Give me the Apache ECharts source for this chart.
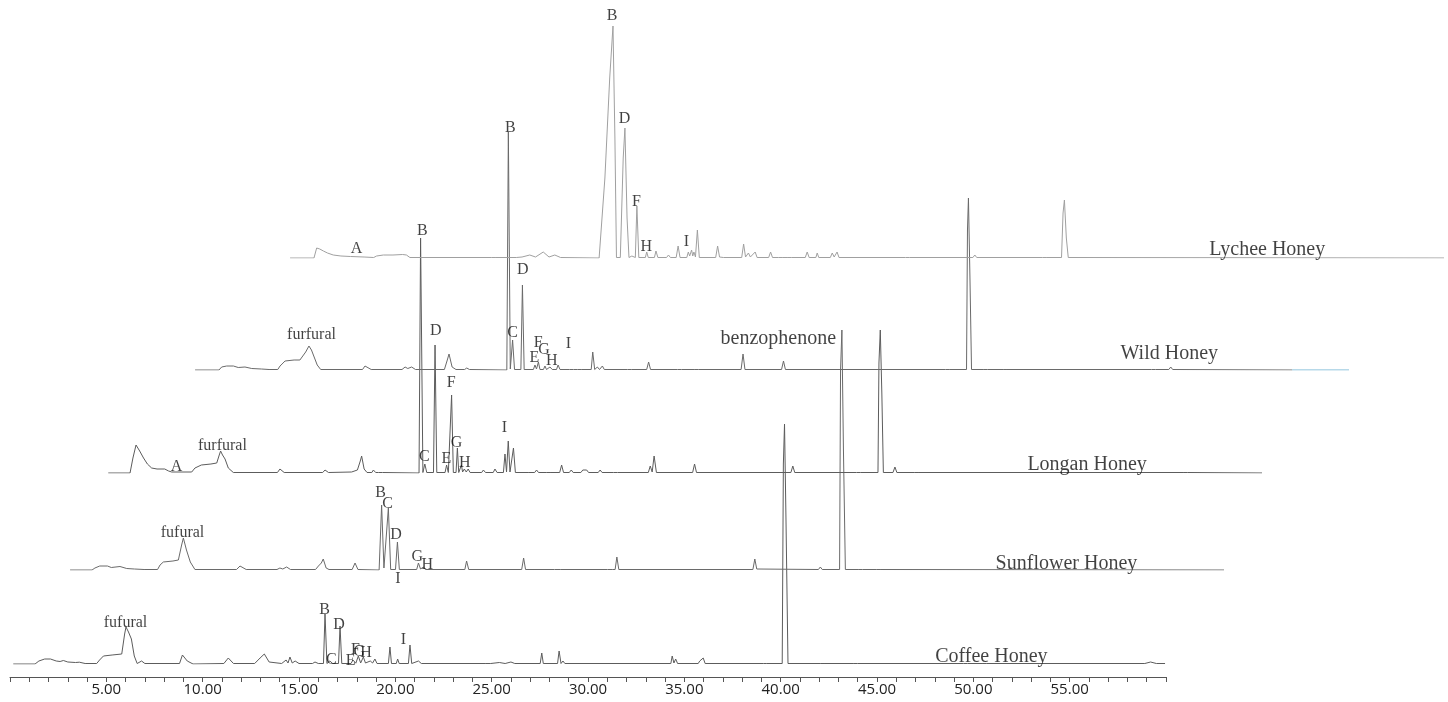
<!DOCTYPE html>
<html>
<head>
<meta charset="utf-8">
<script src="https://cdn.jsdelivr.net/npm/echarts@6/dist/echarts.min.js"></script>
<style>html,body{margin:0;padding:0;background:#fff}#c{width:1448px;height:702px}</style>
</head>
<body>
<div id="c"></div>
<script>
// ---- Data: retention time (min, each trace's own time axis) and signal height ----
const traceNames = ['Coffee Honey', 'Sunflower Honey', 'Longan Honey', 'Wild Honey', 'Lychee Honey'];
const tickLabelStep = 5;
const coffee = [[0.17,0],[1.3,0],[1.5,3],[1.8,5],[2.1,5],[2.4,3],[2.6,2.5],[2.77,3.5],[3.0,2],[3.4,1.5],[3.6,1.8],[3.9,0.5],[4.5,0.5],[4.65,4],[4.85,8],[5.3,9],[5.8,10],[5.95,30],[6.02,37],[6.15,32],[6.3,25],[6.45,8],[6.6,0.5],[6.83,3],[7.0,0.5],[8.8,0.5],[8.95,9],[9.2,3],[9.5,0],[11.1,0.5],[11.33,6],[11.6,0.5],[12.7,0.5],[12.98,6],[13.2,10],[13.29,12],[13.45,2],[14.1,0.5],[14.33,4],[14.43,1],[14.53,7],[14.65,1],[14.8,3],[15.0,0.5],[15.7,0.5],[15.83,2],[16.0,0.5],[16.27,0.5],[16.35,50],[16.45,0.5],[16.6,3],[16.75,0.5],[17.05,0.5],[17.13,38],[17.22,0.5],[17.7,0.5],[17.8,4],[17.95,0.8],[18.08,8],[18.2,1],[18.34,7],[18.45,1],[18.7,3],[18.82,1],[18.94,5],[19.05,0.5],[19.64,0.5],[19.72,17],[19.8,0.5],[20.05,0.5],[20.12,5],[20.2,0.5],[20.68,0.5],[20.76,19],[20.85,0.5],[21.2,3],[21.35,0.5],[24.7,0.5],[24.8,2],[24.95,0.5],[25.4,1.5],[25.7,0.5],[26.0,2],[26.2,0.5],[27.52,0.5],[27.6,11],[27.68,0.5],[28.42,0.5],[28.5,13],[28.6,0.5],[28.7,3],[28.8,0.5],[34.3,0.5],[34.37,8],[34.46,1],[34.55,5],[34.65,0.5],[35.72,0.5],[35.8,3],[35.88,1],[35.98,6],[36.08,0.5],[39.12,0.5],[39.2,2],[39.28,0.5],[40.08,0.5],[40.14,200],[40.2,240],[40.28,140],[40.38,0.5],[42.05,0.5],[42.15,1.5],[42.25,0.5],[43.8,0.5],[43.9,1],[44.0,0.5],[49.5,0.5],[49.6,1.5],[49.7,0.5],[50.5,0.5],[50.6,2],[50.7,0.5],[58.9,0.5],[59.2,2],[59.5,0.5],[59.95,0.5]];
const sunflower = [[0.16,0],[1.3,0],[1.45,2],[1.7,4],[2.1,4],[2.3,2.5],[2.75,3.5],[3.1,1.5],[3.5,1],[4.0,0.5],[4.7,0.5],[4.83,5],[5.0,8],[5.5,9],[5.78,10],[5.95,25],[6.04,32],[6.2,20],[6.4,8],[6.64,0.5],[8.8,0.5],[8.98,4],[9.3,0.5],[10.9,0.5],[11.05,2],[11.2,1],[11.4,3],[11.6,0.5],[12.9,0.5],[13.05,4],[13.2,7],[13.3,11],[13.45,2],[13.6,0.5],[14.8,0.5],[14.95,7],[15.1,0.5],[16.2,0],[16.33,65],[16.45,2],[16.52,1],[16.68,62],[16.8,0.5],[17.05,0.5],[17.15,28],[17.25,0.5],[18.15,0.5],[18.24,7],[18.35,1],[18.5,3],[18.6,0.5],[20.65,0.5],[20.74,9],[20.85,0.5],[23.6,0.5],[23.7,12],[23.8,0.5],[25.3,0.5],[25.4,1],[25.6,0.5],[28.05,0.5],[28.15,1.5],[28.3,0.5],[28.45,0.5],[28.54,13],[28.64,0.5],[35.6,0.5],[35.7,11],[35.8,1],[35.9,0.5],[39.0,0.5],[39.1,3],[39.2,0.5],[40.1,0.5],[40.15,200],[40.22,240],[40.3,120],[40.4,0.5],[41.1,0.5],[41.2,2],[41.3,0.5],[42.0,0.5],[42.1,1.5],[42.2,0.5],[60.1,0]];
const longan = [[0.17,0],[1.3,0],[1.45,15],[1.61,28],[1.8,22],[2.0,15],[2.2,9],[2.42,5],[2.7,4],[3.1,4],[3.3,2],[3.46,1],[4.5,1],[4.67,5],[5.0,8],[5.5,9],[5.8,10],[5.93,18],[6.0,22],[6.1,18],[6.23,14],[6.4,5],[6.66,0.5],[8.95,0.5],[9.08,4],[9.3,0.5],[11.3,0.5],[11.42,3],[11.6,0.5],[12.8,1],[12.9,3],[13.1,3],[13.25,12],[13.32,17],[13.45,4],[13.6,0.5],[13.85,0.5],[13.93,3],[14.05,0.5],[14.2,0.5],[14.27,2],[14.4,0.5],[16.3,0],[16.38,235],[16.5,0.5],[16.6,9],[16.7,0.5],[17.05,0.5],[17.13,128],[17.22,0.5],[17.65,0.5],[17.73,8],[17.82,0.5],[17.92,0.5],[17.99,78],[18.08,0.5],[18.22,0.5],[18.29,25],[18.36,0.5],[18.45,0.5],[18.5,8],[18.56,1],[18.65,4],[18.75,1],[18.85,4],[18.95,0.5],[19.55,0.5],[19.64,3],[19.75,0.5],[20.15,0.5],[20.24,4],[20.35,0.5],[20.68,0.5],[20.76,19],[20.84,1],[20.93,32],[21.02,1],[21.2,25],[21.3,0.5],[21.8,0.5],[21.9,2],[22.0,0.5],[22.3,0.5],[22.4,3],[22.5,0.5],[22.9,0.5],[23.0,2],[23.1,0.5],[23.6,0.5],[23.7,8],[23.8,0.5],[24.1,0.5],[24.2,3],[24.3,0.5],[24.7,0.5],[24.8,3],[24.9,2],[25.0,3],[25.1,0.5],[25.6,0.5],[25.7,3],[25.8,0.5],[26.4,0.5],[26.5,2],[26.6,0.5],[28.2,0.5],[28.3,7],[28.4,1],[28.5,17],[28.62,0.5],[30.5,0.5],[30.6,9],[30.7,0.5],[35.6,0.5],[35.7,7],[35.8,0.5],[39.0,0.5],[39.1,2],[39.2,0.5],[40.12,0.5],[40.17,110],[40.24,143],[40.32,80],[40.4,0.5],[40.9,0.5],[41.0,6],[41.1,0.5],[42.0,0.5],[42.1,2],[42.2,0.5],[56.0,0.5],[56.1,1],[56.2,0.5],[60.2,0]];
const wild = [[0.16,0],[1.4,0],[1.54,3],[1.8,4],[2.15,4],[2.4,2.5],[2.75,3],[3.1,1.5],[3.6,1],[4.0,0.5],[4.45,0.5],[4.57,4],[4.83,9],[5.3,10],[5.6,10],[5.9,18],[6.07,24],[6.2,20],[6.3,15],[6.5,5],[6.68,0.5],[8.85,0.5],[8.98,4],[9.3,0.5],[10.9,0.5],[11.06,3],[11.2,1.5],[11.4,3],[11.6,0.5],[13.1,0.5],[13.25,10],[13.34,16],[13.5,3],[13.7,0.5],[14.15,0.5],[14.26,2],[14.4,0.5],[16.34,0],[16.42,238],[16.52,1],[16.64,30],[16.74,0.5],[17.07,0.5],[17.15,85],[17.24,0.5],[17.72,0.5],[17.8,5],[17.88,1],[17.98,8],[18.06,0.5],[18.24,0.5],[18.32,4],[18.4,0.5],[18.5,0.5],[18.58,3],[18.7,0.5],[18.92,0.5],[19.0,5],[19.1,0.5],[19.6,0.5],[19.7,2],[19.8,0.5],[20.0,0.5],[20.1,2],[20.2,0.5],[20.72,0.5],[20.8,18],[20.9,0.5],[21.04,3],[21.15,0.5],[21.3,4],[21.4,0.5],[22.6,0.5],[22.7,2],[22.8,0.5],[23.6,0.5],[23.7,8],[23.8,0.5],[25.2,0.5],[25.3,2],[25.4,0.5],[26.1,0.5],[26.2,1.5],[26.3,0.5],[28.5,0.5],[28.6,16],[28.7,0.5],[30.6,0.5],[30.7,9],[30.8,0.5],[39.1,0.5],[39.2,2],[39.3,0.5],[40.2,0.5],[40.25,140],[40.3,172],[40.38,90],[40.46,0.5],[41.1,0.5],[41.2,2],[41.3,0.5],[42.1,0.5],[42.2,2],[42.3,0.5],[49.8,0.5],[49.9,2],[50.0,0.5],[50.7,0.5],[50.8,3],[50.9,0.5],[57.1,0]];
const wildTail = [[57.1,0],[60.3,0]];
const lychee = [[0.16,0],[1.4,0],[1.54,10],[1.7,9],[1.89,7],[2.1,5],[2.4,3],[2.8,2],[3.3,1.5],[4.0,1],[4.5,0.5],[4.65,2],[5.0,3],[5.5,3],[6.0,3.5],[6.2,3],[6.38,0.5],[10.6,0.5],[10.7,2],[10.8,0.5],[11.9,0.5],[12.0,2],[12.2,1],[12.6,3],[12.9,1],[13.3,6],[13.6,1],[13.9,3],[14.2,0.5],[16.2,0],[16.5,80],[16.75,180],[16.92,232],[17.02,120],[17.1,0.5],[17.3,0.5],[17.45,100],[17.54,130],[17.65,40],[17.75,0.5],[17.9,2],[18.0,0.5],[18.08,0.5],[18.16,52],[18.26,0.5],[18.6,0.5],[18.67,6],[18.75,0.5],[19.07,0.5],[19.15,7],[19.25,0.5],[19.7,0.5],[19.8,3],[19.9,0.5],[20.2,0.5],[20.3,12],[20.4,0.5],[20.75,0.5],[20.83,6],[20.9,2],[21.0,8],[21.06,2],[21.12,6],[21.2,1],[21.3,28],[21.4,0.5],[22.25,0.5],[22.35,12],[22.45,1],[22.55,3],[22.65,0.5],[23.6,0.5],[23.7,14],[23.8,1],[23.95,5],[24.05,1],[24.3,6],[24.4,0.5],[25.0,0.5],[25.1,6],[25.2,0.5],[25.5,0.5],[25.6,2],[25.7,0.5],[26.0,0.5],[26.1,2],[26.2,0.5],[26.9,0.5],[27.0,6],[27.1,0.5],[27.45,0.5],[27.52,5],[27.6,0.5],[28.2,0.5],[28.3,5],[28.4,1],[28.55,6],[28.65,0.5],[32.1,0.5],[32.2,1],[32.3,0.5],[35.6,0.5],[35.7,3],[35.8,0.5],[39.2,0.5],[39.3,1],[39.4,0.5],[40.2,0.5],[40.28,45],[40.35,58],[40.45,20],[40.55,0.5],[60.2,0]];

// annotations: [text, time, height]
const coffeeLabels = [['fufural',6.02,41],['B',16.35,54],['C',16.7,4],['D',17.1,39],['E',17.7,3],['F',17.95,14],['G',18.16,12],['H',18.5,11],['I',20.45,24],['Coffee Honey',50.96,7]];
const sunflowerLabels = [['fufural',6.02,37],['B',16.3,77],['C',16.66,66],['D',17.1,35],['G',18.2,13],['H',18.73,5],['I',17.2,-9],['Sunflower Honey',51.9,6]];
const longanLabels = [['A',3.74,6],['furfural',6.12,27],['B',16.5,242],['C',16.6,16],['D',17.2,142],['E',17.75,14],['F',18.0,90],['G',18.27,30],['H',18.7,10],['I',20.76,45],['Longan Honey',51.0,8]];
const wildLabels = [['furfural',6.23,35],['B',16.55,242],['C',16.66,37],['D',17.2,100],['E',17.8,12],['F',18.0,27],['G',18.3,20],['H',18.7,9],['I',19.56,26],['benzophenone',30.46,31],['Wild Honey',50.75,16]];
const lycheeLabels = [['A',3.63,9],['B',16.9,242],['D',17.54,139],['F',18.16,56],['H',18.68,11],['I',20.76,16],['Lychee Honey',50.9,8]];

// ---- Layout (pixels) ----
const traces = [coffee, sunflower, longan, wild, lychee];
const labelSets = [coffeeLabels, sunflowerLabels, longanLabels, wildLabels, lycheeLabels];
const gridLeft = [10, 67, 105, 192, 287];
const baseY = [664, 570, 473, 370, 258];
const lineColors = ['#5c5c5c', '#6a6a6a', '#5c5c5c', '#6a6a6a', '#a0a0a0'];
const plotWidth = 1156;
const tMax = 60;

const chart = echarts.init(document.getElementById('c'), null, {renderer: 'canvas'});
const grid = [], xAxis = [], yAxis = [], series = [];
traces.forEach((d, i) => {
  grid.push({left: gridLeft[i], top: 0, width: plotWidth, height: baseY[i], containLabel: false});
  xAxis.push({
    gridIndex: i, type: 'value', min: 0, max: tMax, interval: 1,
    show: i === 0, offset: 13,
    axisLine: {show: true, onZero: false, lineStyle: {color: '#555', width: 1}},
    axisTick: {show: true, interval: 0, length: 5, lineStyle: {color: '#555'}},
    splitLine: {show: false},
    axisLabel: {
      interval: 0, margin: 5, color: '#222', fontSize: 15, fontFamily: 'Open Sans',
      formatter: v => (v % tickLabelStep === 0 && v > 0 && v < tMax) ? v.toFixed(2) : ''
    }
  });
  yAxis.push({gridIndex: i, type: 'value', min: 0, max: baseY[i], show: false, splitLine: {show: false}});
  series.push({
    type: 'line', xAxisIndex: i, yAxisIndex: i, data: d, showSymbol: false, symbol: 'none',
    lineStyle: {width: 1, color: lineColors[i]}, silent: true, z: 2
  });
  series.push({
    type: 'scatter', xAxisIndex: i, yAxisIndex: i, clip: false, symbolSize: 1, silent: true, z: 5,
    itemStyle: {color: 'transparent'},
    data: labelSets[i].map(l => ({name: l[0], value: [l[1], l[2]]})),
    label: {
      show: true, position: [0, 0], align: 'center', verticalAlign: 'middle',
      formatter: p => p.name, color: '#111', fontFamily: 'Liberation Serif'
    },
    labelLayout: {hideOverlap: false}
  });
});
// per-label font sizes
series.forEach(s => {
  if (s.type === 'scatter') {
    s.data.forEach(item => {
      const big = /Honey$/.test(item.name) || item.name === 'benzophenone';
      item.label = {fontSize: big ? 20 : 16};
    });
  }
});
series.push({
  type: 'line', xAxisIndex: 3, yAxisIndex: 3, data: wildTail, showSymbol: false, symbol: 'none',
  lineStyle: {width: 1, color: '#6fb3d2'}, silent: true, z: 2
});

chart.setOption({animation: false, grid, xAxis, yAxis, series});
</script>
</body>
</html>
